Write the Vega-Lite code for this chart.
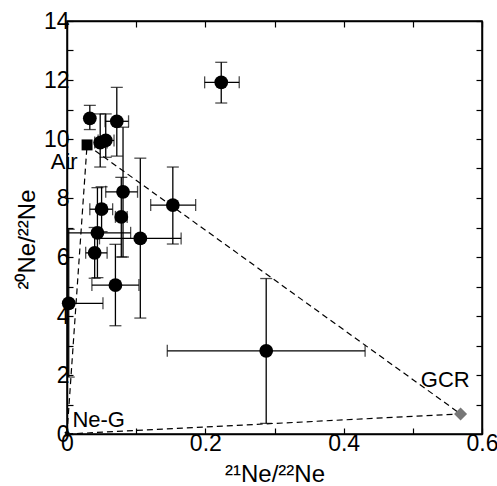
{
  "$schema": "https://vega.github.io/schema/vega-lite/v6.json",
  "width": 415,
  "height": 413,
  "autosize": {"type": "none"},
  "padding": {"left": 67, "top": 21, "right": 15, "bottom": 52},
  "background": "white",
  "config": {
    "font": "Liberation Sans",
    "view": {"stroke": "black", "strokeWidth": 1.5},
    "axis": {
      "grid": false,
      "domainColor": "black",
      "domainWidth": 1.5,
      "tickColor": "black",
      "tickWidth": 1.2,
      "tickSize": -6,
      "labelColor": "black",
      "titleColor": "black",
      "labelFontSize": 23,
      "titleFontSize": 24,
      "titleFontWeight": "normal",
      "labelFlush": false,
      "labelOverlap": false
    }
  },
  "datasets": {
    "pts": [
      {"x": 0.223, "y": 11.92, "xlo": 0.199, "xhi": 0.249, "ylo": 11.22, "yhi": 12.6},
      {"x": 0.033, "y": 10.7, "xlo": 0.033, "xhi": 0.033, "ylo": 10.32, "yhi": 11.14},
      {"x": 0.072, "y": 10.6, "xlo": 0.055, "xhi": 0.089, "ylo": 9.42, "yhi": 11.75},
      {"x": 0.048, "y": 9.88, "xlo": 0.04, "xhi": 0.058, "ylo": 9.05, "yhi": 10.85},
      {"x": 0.056, "y": 9.95, "xlo": 0.045, "xhi": 0.068, "ylo": 9.38, "yhi": 10.85},
      {"x": 0.081, "y": 8.21, "xlo": 0.056, "xhi": 0.102, "ylo": 6.0, "yhi": 10.4},
      {"x": 0.05, "y": 7.62, "xlo": 0.033, "xhi": 0.066, "ylo": 6.86, "yhi": 8.38},
      {"x": 0.0785, "y": 7.36, "xlo": 0.07, "xhi": 0.087, "ylo": 6.0, "yhi": 8.7},
      {"x": 0.153, "y": 7.76, "xlo": 0.121, "xhi": 0.186, "ylo": 6.44, "yhi": 9.05},
      {"x": 0.044, "y": 6.82, "xlo": -0.004, "xhi": 0.092, "ylo": 5.3, "yhi": 8.35},
      {"x": 0.106, "y": 6.63, "xlo": 0.047, "xhi": 0.165, "ylo": 3.93, "yhi": 9.35},
      {"x": 0.04, "y": 6.14, "xlo": 0.027, "xhi": 0.058, "ylo": 5.28, "yhi": 7.0},
      {"x": 0.07, "y": 5.05, "xlo": 0.036, "xhi": 0.104, "ylo": 3.67, "yhi": 6.43},
      {"x": 0.0025, "y": 4.43, "xlo": -0.047, "xhi": 0.052, "ylo": 1.93, "yhi": 6.94},
      {"x": 0.288, "y": 2.82, "xlo": 0.145, "xhi": 0.431, "ylo": 0.36, "yhi": 5.27}
    ],
    "segs": [
      {"seg": "a", "i": 0, "x": 0.029, "y": 9.8},
      {"seg": "a", "i": 1, "x": 0.569, "y": 0.68},
      {"seg": "b", "i": 0, "x": 0.0, "y": 0.0},
      {"seg": "b", "i": 1, "x": 0.569, "y": 0.68},
      {"seg": "c", "i": 0, "x": 0.0, "y": 0.0},
      {"seg": "c", "i": 1, "x": 0.029, "y": 9.8}
    ],
    "air": [{"x": 0.029, "y": 9.8}],
    "gcr": [{"x": 0.569, "y": 0.68}],
    "neg": [{"x": 0.0, "y": 0.0}],
    "labels": [
      {"text": "Air", "x": -0.0235, "y": 8.98},
      {"text": "Ne-G", "x": 0.0078, "y": 0.25},
      {"text": "GCR", "x": 0.5115, "y": 1.6}
    ]
  },
  "resolve": {"axis": {"x": "independent", "y": "independent"}},
  "layer": [
    {
      "encoding": {
        "x": {"type": "quantitative", "scale": {"domain": [0, 0.6], "nice": false, "zero": false},
          "axis": {"orient": "bottom", "values": [0, 0.1, 0.2, 0.3, 0.4, 0.5, 0.6],
            "labelExpr": "round(datum.value*10)%2==0 ? (datum.value==0 ? '0' : format(datum.value,'.1f')) : ''",
            "labelPadding": 4, "title": "²¹Ne/²²Ne", "titlePadding": 7}},
        "y": {"type": "quantitative", "scale": {"domain": [0, 14], "nice": false},
          "axis": {"orient": "left", "values": [0,1,2,3,4,5,6,7,8,9,10,11,12,13,14],
            "labelExpr": "round(datum.value)%2==0 ? datum.label : ''",
            "labelPadding": 4, "title": "²⁰Ne/²²Ne", "titleY": 218, "titleX": -28}}
      },
      "layer": [
        {
          "data": {"name": "segs"},
          "mark": {"type": "line", "color": "black", "strokeWidth": 1.2, "strokeDash": [6, 4]},
          "encoding": {"x": {"field": "x"}, "y": {"field": "y"}, "detail": {"field": "seg"}, "order": {"field": "i"}}
        },
        {
          "data": {"name": "pts"},
          "mark": {"type": "rule", "color": "black", "strokeWidth": 1.3, "clip": true},
          "encoding": {"x": {"field": "xlo"}, "x2": {"field": "xhi"}, "y": {"field": "y"}}
        },
        {
          "data": {"name": "pts"},
          "mark": {"type": "rule", "color": "black", "strokeWidth": 1.3, "clip": true},
          "encoding": {"x": {"field": "x"}, "y": {"field": "ylo"}, "y2": {"field": "yhi"}}
        },
        {
          "data": {"name": "pts"},
          "mark": {"type": "tick", "orient": "vertical", "color": "black", "size": 12, "thickness": 1.3, "clip": true},
          "encoding": {"x": {"field": "xlo"}, "y": {"field": "y"}}
        },
        {
          "data": {"name": "pts"},
          "mark": {"type": "tick", "orient": "vertical", "color": "black", "size": 12, "thickness": 1.3, "clip": true},
          "encoding": {"x": {"field": "xhi"}, "y": {"field": "y"}}
        },
        {
          "data": {"name": "pts"},
          "mark": {"type": "tick", "orient": "horizontal", "color": "black", "size": 12, "thickness": 1.3, "clip": true},
          "encoding": {"x": {"field": "x"}, "y": {"field": "ylo"}}
        },
        {
          "data": {"name": "pts"},
          "mark": {"type": "tick", "orient": "horizontal", "color": "black", "size": 12, "thickness": 1.3, "clip": true},
          "encoding": {"x": {"field": "x"}, "y": {"field": "yhi"}}
        },
        {
          "data": {"name": "pts"},
          "mark": {"type": "point", "shape": "circle", "filled": true, "color": "black", "opacity": 1, "size": 190},
          "encoding": {"x": {"field": "x"}, "y": {"field": "y"}}
        },
        {
          "data": {"name": "air"},
          "mark": {"type": "point", "shape": "square", "filled": true, "color": "black", "opacity": 1, "size": 120},
          "encoding": {"x": {"field": "x"}, "y": {"field": "y"}}
        },
        {
          "data": {"name": "gcr"},
          "mark": {"type": "point", "shape": "diamond", "filled": true, "color": "#777777", "opacity": 1, "size": 170},
          "encoding": {"x": {"field": "x"}, "y": {"field": "y"}}
        },
        {
          "data": {"name": "neg"},
          "mark": {"type": "point", "shape": "cross", "angle": 45, "filled": true, "color": "black", "opacity": 1, "size": 30},
          "encoding": {"x": {"field": "x"}, "y": {"field": "y"}}
        },
        {
          "data": {"name": "labels"},
          "mark": {"type": "text", "align": "left", "baseline": "alphabetic", "fontSize": 22, "color": "black", "font": "Liberation Sans"},
          "encoding": {"x": {"field": "x"}, "y": {"field": "y"}, "text": {"field": "text"}}
        }
      ]
    },
    {
      "data": {"name": "neg"},
      "mark": {"type": "point", "opacity": 0},
      "encoding": {
        "x": {"field": "x", "type": "quantitative", "scale": {"domain": [0, 0.6], "nice": false, "zero": false},
          "axis": {"orient": "top", "values": [0, 0.1, 0.2, 0.3, 0.4, 0.5, 0.6], "labels": false, "title": null}},
        "y": {"field": "y", "type": "quantitative", "scale": {"domain": [0, 14], "nice": false},
          "axis": {"orient": "right", "values": [0,1,2,3,4,5,6,7,8,9,10,11,12,13,14], "labels": false, "title": null}}
      }
    }
  ]
}
